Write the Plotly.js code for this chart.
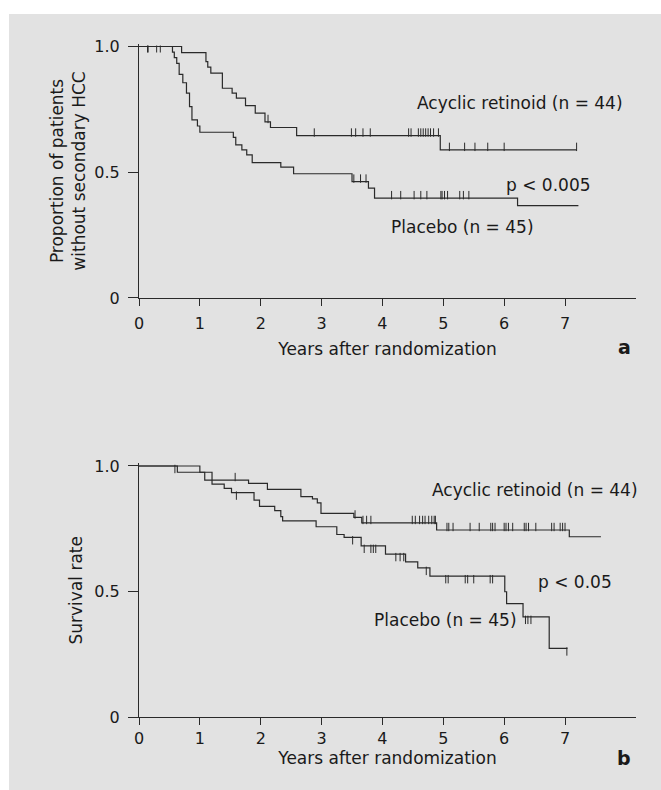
<!DOCTYPE html>
<html><head><meta charset="utf-8">
<script src="https://cdn.plot.ly/plotly-3.0.1.min.js"></script>
<style>body{margin:0;background:#fff;} #chart{position:absolute;left:9px;top:14px;width:652px;height:776px;}</style>
</head><body><div id="chart"></div>
<script>
// ---------- DATA ----------
const xTicks = [0, 1, 2, 3, 4, 5, 6, 7];
const yTickVals = [0, 0.5, 1];
const yTickText = ['0', '0.5', '1.0'];

// Panel a: proportion without secondary HCC
const aRetTimes = [0, 0.70, 1.10, 1.13, 1.18, 1.37, 1.53, 1.60, 1.75, 1.91, 2.07, 2.16, 2.59, 4.95, 7.19];
const aRetSurv  = [1.0, 0.976, 0.94, 0.918, 0.894, 0.834, 0.815, 0.795, 0.765, 0.735, 0.70, 0.678, 0.646, 0.589, 0.589];
const aRetCens  = [0.13, 0.16, 0.19, 0.22, 0.25, 0.38, 0.41, 0.45, 2.12, 2.88, 3.49, 3.56, 3.68, 3.80, 4.43, 4.47, 4.59, 4.63, 4.67, 4.71, 4.75, 4.79, 4.84, 4.92, 5.10, 5.35, 5.52, 5.73, 6.00, 7.19];

const aPlaTimes = [0, 0.55, 0.58, 0.62, 0.66, 0.72, 0.78, 0.83, 0.87, 0.96, 1.00, 1.55, 1.59, 1.69, 1.77, 1.86, 2.33, 2.54, 3.50, 3.77, 3.87, 6.22, 7.22];
const aPlaSurv  = [1.0, 0.978, 0.956, 0.933, 0.889, 0.856, 0.815, 0.761, 0.708, 0.684, 0.659, 0.639, 0.609, 0.589, 0.569, 0.538, 0.52, 0.494, 0.463, 0.437, 0.397, 0.367, 0.367];
const aPlaCensUp   = [3.53, 3.64, 3.73, 4.15, 4.30, 4.52, 4.63, 4.73, 4.96, 4.98, 5.02, 5.07, 5.27, 5.33, 5.42];
const aPlaCensDown = [0.14, 0.15, 0.29, 0.35];

// Panel b: survival
const bRetTimes = [0, 1.00, 1.08, 1.80, 2.11, 2.66, 2.85, 2.93, 2.99, 3.53, 3.66, 4.89, 7.07, 7.59];
const bRetSurv  = [1.0, 0.975, 0.944, 0.931, 0.907, 0.878, 0.869, 0.853, 0.811, 0.795, 0.773, 0.745, 0.718, 0.718];
const bRetCens  = [1.58, 3.55, 3.68, 3.74, 3.81, 4.49, 4.54, 4.61, 4.66, 4.70, 4.76, 4.81, 4.85, 4.87, 5.06, 5.09, 5.16, 5.44, 5.59, 5.78, 5.81, 5.85, 6.00, 6.03, 6.07, 6.14, 6.33, 6.36, 6.40, 6.52, 6.78, 6.82, 6.92, 6.96, 7.00];

const bPlaTimes = [0, 0.63, 1.20, 1.40, 1.52, 1.89, 1.98, 2.23, 2.33, 2.36, 2.91, 3.25, 3.37, 3.65, 4.05, 4.38, 4.58, 4.78, 6.01, 6.04, 6.31, 6.74, 7.04];
const bPlaSurv  = [1.0, 0.975, 0.928, 0.911, 0.894, 0.864, 0.839, 0.822, 0.798, 0.781, 0.758, 0.727, 0.716, 0.682, 0.649, 0.618, 0.594, 0.561, 0.499, 0.452, 0.399, 0.273, 0.273];
const bPlaCens  = [0.59, 1.60, 3.51, 3.70, 3.81, 3.85, 3.89, 4.22, 4.29, 4.35, 4.72, 5.04, 5.08, 5.36, 5.40, 5.50, 5.77, 5.81, 6.35, 6.39, 6.44, 7.03];

// ---------- STYLE / LAYOUT ----------
const FONT = 'DejaVu Sans, Liberation Sans, sans-serif';
const LINE = '#2a2a2a';
const TXT = '#1a1a1a';
const BG = '#e2e2e2';
const W = 652, H = 776, M = {l: 130, r: 25, t: 30, b: 73};
const yRange = [0, 1.01];
const xRange = [0, 8.166];
const dom1 = [0.6226, 1], dom2 = [0, 0.3767];
const plotH = H - M.t - M.b;
function pxPerUnit(dom) { return plotH * (dom[1] - dom[0]) / (yRange[1] - yRange[0]); }

function survAt(times, surv, t) {
  let v = surv[0];
  for (let i = 0; i < times.length; i++) if (times[i] <= t) v = surv[i];
  return v;
}
function curve(times, surv, xa, ya) {
  return {x: times, y: surv, xaxis: xa, yaxis: ya, type: 'scatter', mode: 'lines',
          line: {shape: 'hv', color: LINE, width: 1.2}, hoverinfo: 'skip'};
}
function ticks(cens, times, surv, dir, xa, ya, dom, len) {
  const ppu = pxPerUnit(dom);
  return {x: cens, y: cens.map(t => survAt(times, surv, t) + dir * (len / 2) / ppu),
          xaxis: xa, yaxis: ya, type: 'scatter', mode: 'markers', cliponaxis: false,
          marker: {symbol: 'line-ns', size: len, color: LINE, line: {width: 1, color: LINE}},
          hoverinfo: 'skip'};
}

const data = [
  curve(aRetTimes, aRetSurv, 'x', 'y'),
  curve(aPlaTimes, aPlaSurv, 'x', 'y'),
  ticks(aRetCens, aRetTimes, aRetSurv, 1, 'x', 'y', dom1, 6),
  ticks(aPlaCensUp, aPlaTimes, aPlaSurv, 1, 'x', 'y', dom1, 6),
  ticks(aPlaCensDown, aPlaTimes, aPlaSurv, -1, 'x', 'y', dom1, 5),
  curve(bRetTimes, bRetSurv, 'x2', 'y2'),
  curve(bPlaTimes, bPlaSurv, 'x2', 'y2'),
  ticks(bRetCens, bRetTimes, bRetSurv, 1, 'x2', 'y2', dom2, 6),
  ticks(bPlaCens, bPlaTimes, bPlaSurv, -1, 'x2', 'y2', dom2, 6)
];

function xAxis(anchor, labelGap, standoff) {
  return {anchor: anchor, domain: [0, 1], range: xRange, tickvals: xTicks,
    ticks: 'outside', ticklen: 7, tickwidth: 1, tickcolor: LINE, ticklabelstandoff: labelGap,
    showline: true, linecolor: LINE, linewidth: 1, showgrid: false, zeroline: false,
    tickfont: {family: FONT, size: 16, color: TXT},
    title: {text: 'Years after randomization', font: {family: FONT, size: 17, color: TXT}, standoff: standoff}};
}
function yAxis(anchor, dom, title, standoff) {
  return {anchor: anchor, domain: dom, range: yRange, tickvals: yTickVals, ticktext: yTickText,
    ticks: 'outside', ticklen: 10, tickwidth: 1, tickcolor: LINE, ticklabelstandoff: 5,
    showline: true, linecolor: LINE, linewidth: 1, showgrid: false, zeroline: false,
    tickfont: {family: FONT, size: 16, color: TXT},
    title: {text: title, font: {family: FONT, size: 17, color: TXT}, standoff: standoff}};
}

function label(text, x, y, xref, yref, opts) {
  return Object.assign({text: text, x: x, y: y, xref: xref, yref: yref, showarrow: false,
    xanchor: 'left', yanchor: 'middle', font: {family: FONT, size: 17, color: TXT}}, opts || {});
}
const boldFont = {family: FONT, size: 19, color: TXT};

const layout = {
  width: W, height: H, margin: M, paper_bgcolor: BG, plot_bgcolor: BG, showlegend: false,
  xaxis: xAxis('y', 4, 10),
  yaxis: yAxis('x', dom1, 'Proportion of patients<br>without secondary HCC', 4),
  xaxis2: xAxis('y2', 0, 4),
  yaxis2: yAxis('x2', dom2, 'Survival rate', 7),
  annotations: [
    label('Acyclic retinoid (n = 44)', 4.535, 0.776, 'x', 'y'),
    label('p &lt; 0.005', 6.0, 0.45, 'x', 'y'),
    label('Placebo (n = 45)', 4.11, 0.283, 'x', 'y'),
    label('<b>a</b>', 0.976, 0.5498, 'paper', 'paper', {xanchor: 'center', font: boldFont}),
    label('Acyclic retinoid (n = 44)', 4.78, 0.904, 'x2', 'y2'),
    label('p &lt; 0.05', 6.52, 0.537, 'x2', 'y2'),
    label('Placebo (n = 45)', 3.83, 0.386, 'x2', 'y2'),
    label('<b>b</b>', 0.976, -0.0609, 'paper', 'paper', {xanchor: 'center', font: boldFont})
  ]
};

Plotly.newPlot('chart', data, layout, {staticPlot: true});
</script></body></html>
